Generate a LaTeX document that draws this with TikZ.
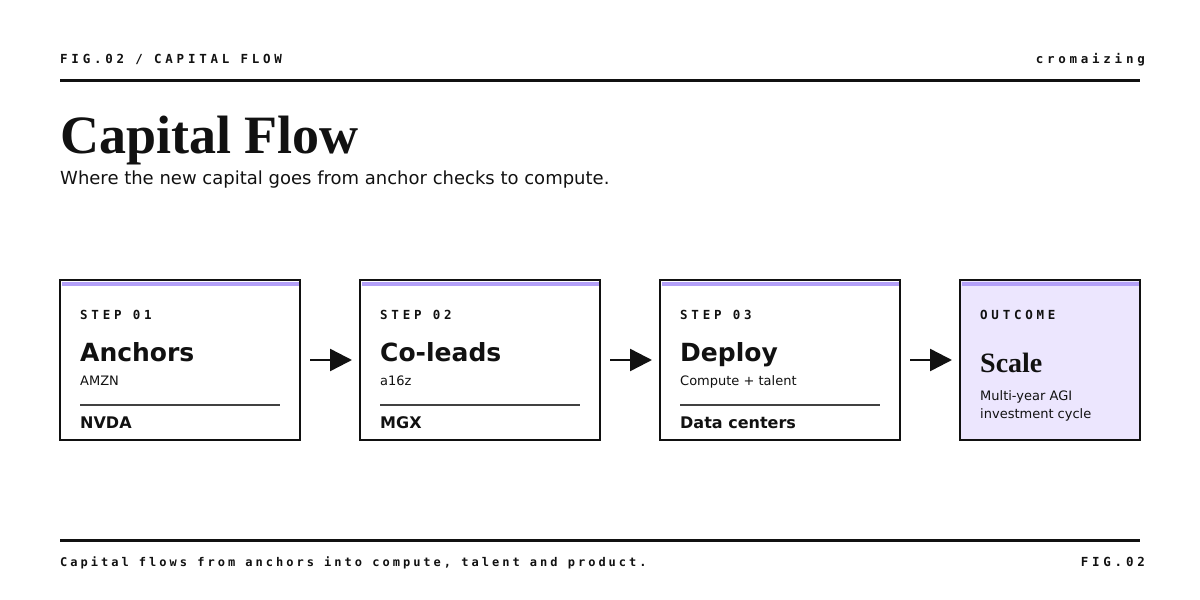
\documentclass[tikz,border=0pt]{standalone}
\usepackage{fontspec}
\setmainfont{DejaVu Sans}
\newfontfamily\monob[LetterSpace=30]{DejaVu Sans Mono Bold}
\newfontfamily\serifb{Liberation Serif Bold}
\usetikzlibrary{arrows.meta}
\definecolor{ink}{HTML}{111111}
\definecolor{lav}{HTML}{B3A0F8}
\definecolor{lavfill}{HTML}{ECE6FE}
\tikzset{
  txt/.style={anchor=base west,inner sep=0pt,text=ink},
  txtr/.style={anchor=base east,inner sep=0pt,text=ink},
  card/.style={draw=ink,line width=2.5pt,fill=white},
  rule/.style={draw=ink,line width=3pt},
  flow/.style={draw=ink,line width=2.5pt,-{Triangle[length=22pt,width=22pt]}},
}
\begin{document}
\begin{tikzpicture}[x=1pt,y=-1pt]
\useasboundingbox (0,0) rectangle (1200,600);
\node[txt,font=\monob\fontsize{12.5}{14}\selectfont] (hl) at (60,63) {FIG.02 / CAPITAL FLOW};
\node[txtr,font=\monob\fontsize{12.5}{14}\selectfont] (hr) at (1145,63) {cromaizing};
\draw[rule] (60,80) -- (1140,80);
\node[txt,font=\serifb\fontsize{54}{60}\selectfont] (title) at (60,153) {Capital Flow};
\node[txt,font=\fontsize{18}{22}\selectfont] (sub) at (60,184) {Where the new capital goes from anchor checks to compute.};
% cards
\foreach \x/\lab/\t/\s/\b [count=\i] in {60/STEP 01/Anchors/AMZN \,/ NVDA \,/ SBG/\$110B+,360/STEP 02/Co-leads/a16z / MGX / TPG/+ retail \$3B,660/STEP 03/Deploy/Compute + talent/Data centers}{
  \draw[card] (\x,280) rectangle (\x+240,440);
  \fill[lav] (\x+1.5,281.5) rectangle (\x+238.5,286);
  \node[txt,font=\monob\fontsize{12.5}{14}\selectfont] (l\i) at (\x+20,319) {\lab};
  \node[txt,font=\bfseries\fontsize{25}{30}\selectfont] (t\i) at (\x+20,361) {\t};
  \node[txt,font=\fontsize{13}{16}\selectfont] (s\i) at (\x+20,385) {\s};
  \draw[draw=ink!80,line width=1.8pt] (\x+20,405) -- (\x+220,405);
  \node[txt,font=\bfseries\fontsize{16}{19}\selectfont] (b\i) at (\x+20,428) {\b};
}
\draw[card,fill=lavfill] (960,280) rectangle (1140,440);
\fill[lav] (961.5,281.5) rectangle (1138.5,286);
\node[txt,font=\monob\fontsize{12.5}{14}\selectfont] (l4) at (980,319) {OUTCOME};
\node[txt,font=\serifb\fontsize{28}{32}\selectfont] (t4) at (980,372) {Scale};
\node[txt,font=\fontsize{13}{16}\selectfont] (s4) at (980,400) {Multi-year AGI};
\node[txt,font=\fontsize{13}{16}\selectfont] (s5) at (980,418) {investment cycle};
\coordinate (a1) at (310,360); \coordinate (a2) at (610,360); \coordinate (a3) at (910,360);
\coordinate (e1) at (352,360); \coordinate (e2) at (652,360); \coordinate (e3) at (952,360);
\draw[flow] (a1) -- (e1);
\draw[flow] (a2) -- (e2);
\draw[flow] (a3) -- (e3);
\draw[rule] (60,540) -- (1140,540);
\node[txt,font=\monob\fontsize{12}{14}\selectfont\addfontfeature{LetterSpace=25}] (fl) at (60,566) {Capital flows from anchors into compute, talent and product.};
\node[txtr,font=\monob\fontsize{12.5}{14}\selectfont] (fr) at (1145,566) {FIG.02};
\end{tikzpicture}
\end{document}
